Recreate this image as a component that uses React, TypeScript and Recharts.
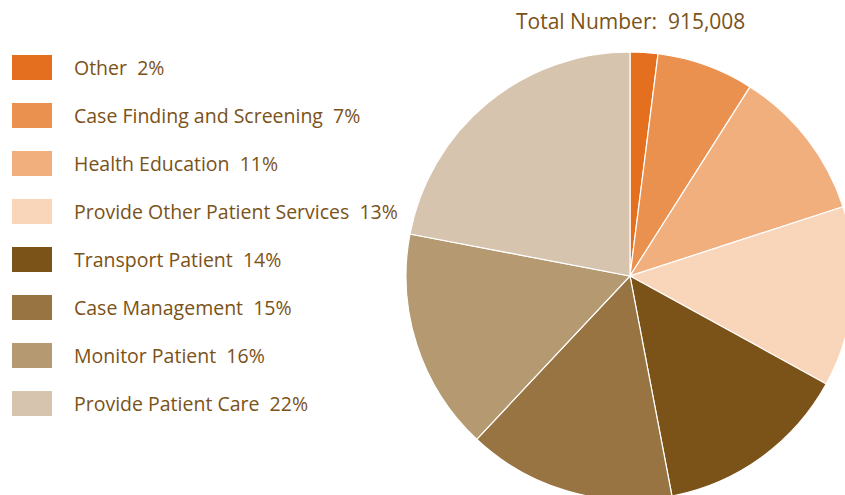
import { PieChart, Pie, Cell } from 'recharts'

const CATEGORIES = [
  'Other',
  'Case Finding and Screening',
  'Health Education',
  'Provide Other Patient Services',
  'Transport Patient',
  'Case Management',
  'Monitor Patient',
  'Provide Patient Care',
]
const SHARES = [2, 7, 11, 13, 14, 15, 16, 22]
const COLORS = ['#e4701f', '#eb9150', '#f2af7e', '#f9d6ba', '#7b5218', '#977441', '#b49971', '#d7c4ae']
const TOTAL_LABEL = 'Total Number:  915,008'

const TEXT_COLOR = '#7b5218'
const FONT = '"Open Sans", "Noto Sans", sans-serif'

const data = CATEGORIES.map((name, i) => ({ name, value: SHARES[i] }))

// legend is plain html on the left, the pie keeps the whole svg
function LegendList() {
  return (
    <div style={{ position: 'absolute', left: 0, top: 43, fontFamily: FONT }}>
      {data.map((d, i) => (
        <div key={d.name} style={{ display: 'flex', alignItems: 'center', height: 48 }}>
          <div style={{ width: 40, height: 25, marginLeft: 12, background: COLORS[i] }} />
          <span style={{ marginLeft: 22, fontSize: 19.5, color: TEXT_COLOR, whiteSpace: 'nowrap' }}>
            {d.name}&nbsp;&nbsp;{d.value}%
          </span>
        </div>
      ))}
    </div>
  )
}

export default function App() {
  return (
    <div style={{ position: 'absolute', left: 0, top: 0, width: 845, height: 495, overflow: 'hidden', background: '#fff' }}>
      <PieChart width={845} height={495} margin={{ top: 0, right: 0, bottom: 0, left: 0 }}>
        <Pie
          data={data}
          dataKey="value"
          nameKey="name"
          cx={630}
          cy={276}
          outerRadius={224}
          startAngle={90}
          endAngle={-270}
          stroke="#ffffff"
          strokeWidth={1.2}
          isAnimationActive={false}
        >
          {data.map((_, i) => (
            <Cell key={i} fill={COLORS[i]} />
          ))}
        </Pie>
      </PieChart>
      <LegendList />
      <div
        style={{
          position: 'absolute',
          left: 516,
          top: 7,
          fontFamily: FONT,
          fontSize: 21,
          color: TEXT_COLOR,
          whiteSpace: 'pre',
        }}
      >
        {TOTAL_LABEL}
      </div>
    </div>
  )
}
